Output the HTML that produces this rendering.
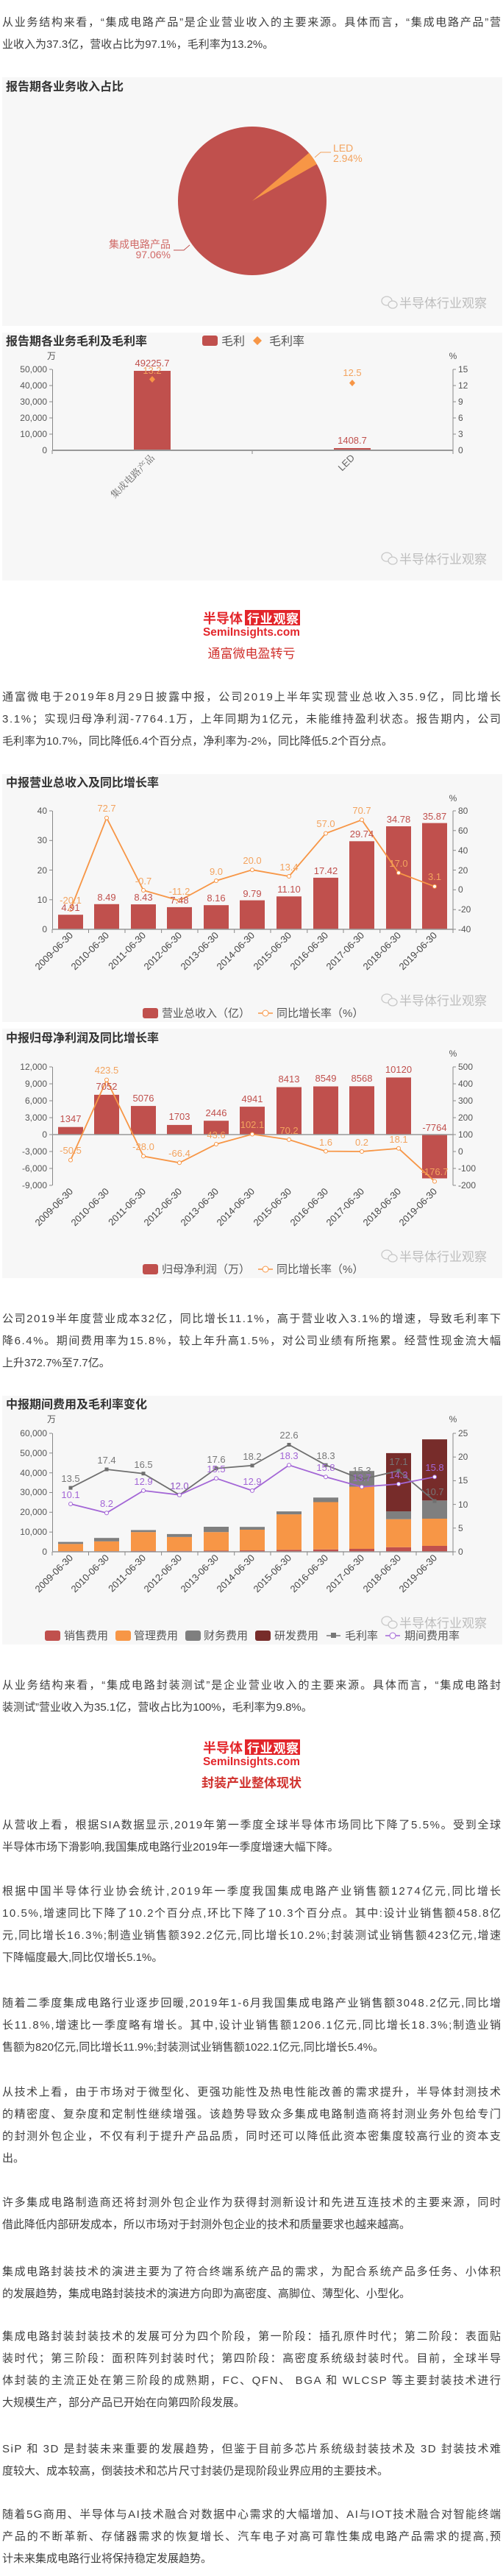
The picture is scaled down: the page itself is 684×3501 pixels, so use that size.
<!DOCTYPE html>
<html><head><meta charset="utf-8"><style>
html,body{margin:0;padding:0;background:#fff;}
svg{display:block;}
.p{font-family:"Liberation Sans","Noto Sans CJK SC",sans-serif;font-size:15px;fill:#3e3e3e;}
.t{font-family:"Liberation Sans","Noto Sans CJK SC",sans-serif;font-size:16px;font-weight:bold;fill:#333;}
.ax{font-family:"Liberation Sans","Noto Sans CJK SC",sans-serif;font-size:12px;fill:#555;}
.xl{font-family:"Liberation Sans","Noto Sans CJK SC",sans-serif;font-size:13px;fill:#444;}
.rl{font-family:"Liberation Sans",sans-serif;font-size:13px;fill:#c0504d;}
.ol{font-family:"Liberation Sans",sans-serif;font-size:13px;fill:#f3a35e;}
.gl{font-family:"Liberation Sans",sans-serif;font-size:13px;fill:#777;}
.pl{font-family:"Liberation Sans",sans-serif;font-size:13px;fill:#a366d6;}
.lg{font-family:"Liberation Sans","Noto Sans CJK SC",sans-serif;font-size:15px;fill:#555;}
.wm{font-family:"Liberation Sans","Noto Sans CJK SC",sans-serif;font-size:17px;fill:#bdbdbd;}
.hd{font-family:"Liberation Sans","Noto Sans CJK SC",sans-serif;font-size:17px;fill:#d0312d;}
</style></head><body>
<svg width="684" height="3501" viewBox="0 0 684 3501" xmlns="http://www.w3.org/2000/svg">
<defs>
<g id="wx"><ellipse cx="0" cy="0" rx="7" ry="6" fill="none" stroke="#c8c8c8" stroke-width="1.3"/><ellipse cx="8" cy="5" rx="6" ry="5" fill="#f7f7f7" stroke="#c8c8c8" stroke-width="1.3"/></g>
</defs>

<!-- paragraph 1 -->
<text class="p" x="3" y="35" textLength="678" lengthAdjust="spacing">从业务结构来看，“集成电路产品”是企业营业收入的主要来源。具体而言，“集成电路产品”营</text>
<text class="p" x="3" y="65">业收入为37.3亿，营收占比为97.1%，毛利率为13.2%。</text>

<!-- chart 1 pie -->
<rect x="3" y="105" width="680" height="338" fill="#f7f7f7"/>
<text class="t" x="8" y="123">报告期各业务收入占比</text>
<circle cx="343" cy="273" r="101" fill="#c0504d"/>
<path d="M343,273 L420.2,207.8 A101,101 0 0,1 430.8,223.1 Z" fill="#f79646"/>
<polyline points="428,214 436,207 450,207" fill="none" stroke="#f3a35e" stroke-width="1"/>
<text x="453" y="206" style="font-family:'Liberation Sans',sans-serif;font-size:14px;fill:#f3a35e">LED</text>
<text x="453" y="220" style="font-family:'Liberation Sans',sans-serif;font-size:14px;fill:#f3a35e">2.94%</text>
<polyline points="258,333 250,340 236,340" fill="none" stroke="#c0504d" stroke-width="1"/>
<text x="232" y="337" text-anchor="end" style="font-family:'Liberation Sans','Noto Sans CJK SC',sans-serif;font-size:14px;fill:#d06a67">集成电路产品</text>
<text x="232" y="351" text-anchor="end" style="font-family:'Liberation Sans',sans-serif;font-size:14px;fill:#d06a67">97.06%</text>
<use href="#wx" x="526" y="409"/>
<text class="wm" x="543" y="418">半导体行业观察</text>

<!-- chart 2 -->
<rect x="3" y="452" width="680" height="337" fill="#f7f7f7"/>
<text class="t" x="8" y="469">报告期各业务毛利及毛利率</text>
<rect x="275" y="456" width="21" height="14" rx="3" fill="#c0504d"/>
<text class="lg" x="301" y="469" style="font-size:16px">毛利</text>
<path d="M350,457 L356,463 L350,469 L344,463 Z" fill="#f79646"/>
<text class="lg" x="366" y="469" style="font-size:16px">毛利率</text>
<text class="ax" x="70" y="488" text-anchor="middle">万</text>
<text class="ax" x="616" y="488" text-anchor="middle">%</text>
<line x1="71.5" y1="502" x2="71.5" y2="612" stroke="#888"/>
<line x1="616" y1="502" x2="616" y2="612" stroke="#888"/>
<g stroke="#888">
<line x1="67" y1="502" x2="71" y2="502"/><line x1="67" y1="524" x2="71" y2="524"/><line x1="67" y1="546" x2="71" y2="546"/><line x1="67" y1="568" x2="71" y2="568"/><line x1="67" y1="590" x2="71" y2="590"/>
<line x1="616" y1="502" x2="620" y2="502"/><line x1="616" y1="524" x2="620" y2="524"/><line x1="616" y1="546" x2="620" y2="546"/><line x1="616" y1="568" x2="620" y2="568"/><line x1="616" y1="590" x2="620" y2="590"/>
<line x1="71" y1="612" x2="71" y2="617"/><line x1="343" y1="612" x2="343" y2="617"/><line x1="616" y1="612" x2="616" y2="617"/>
</g>
<g class="ax" text-anchor="end">
<text x="64" y="506">50,000</text><text x="64" y="528">40,000</text><text x="64" y="550">30,000</text><text x="64" y="572">20,000</text><text x="64" y="594">10,000</text><text x="64" y="616">0</text>
</g>
<g class="ax">
<text x="623" y="506">15</text><text x="623" y="528">12</text><text x="623" y="550">9</text><text x="623" y="572">6</text><text x="623" y="594">3</text><text x="623" y="616">0</text>
</g>
<rect x="182" y="504" width="50" height="108" fill="#c0504d"/>
<rect x="454" y="609" width="50" height="3" fill="#c0504d"/>
<line x1="71" y1="612" x2="616" y2="612" stroke="#999" stroke-width="2"/>
<text class="rl" x="207" y="498" text-anchor="middle">49225.7</text>
<text class="ol" x="207" y="508" text-anchor="middle">13.2</text>
<path d="M207,511 L211,515.5 L207,520 L203,515.5 Z" fill="#f79646"/>
<text class="ol" x="479" y="511" text-anchor="middle">12.5</text>
<path d="M479,516 L483,520.5 L479,525 L475,520.5 Z" fill="#f79646"/>
<text class="rl" x="479" y="603" text-anchor="middle">1408.7</text>
<text transform="translate(211,623) rotate(-45)" text-anchor="end" style="font-family:'Noto Serif CJK SC',serif;font-size:13px;fill:#666">集成电路产品</text>
<text transform="translate(483,623) rotate(-45)" text-anchor="end" style="font-family:'Liberation Sans',sans-serif;font-size:13px;fill:#666">LED</text>
<use href="#wx" x="526" y="757"/>
<text class="wm" x="543" y="766">半导体行业观察</text>

<!-- logo 1 -->
<text x="276" y="847" style="font-family:'Liberation Sans','Noto Sans CJK SC',sans-serif;font-size:18px;font-weight:bold;fill:#e3262b">半导体</text>
<rect x="333" y="829" width="75" height="21" fill="#e3262b"/>
<text x="336" y="847" textLength="70" style="font-family:'Liberation Sans','Noto Sans CJK SC',sans-serif;font-size:17px;font-weight:bold;fill:#fff">行业观察</text>
<text x="276" y="864" textLength="132" lengthAdjust="spacingAndGlyphs" style="font-family:'Liberation Sans',sans-serif;font-size:16px;font-weight:bold;fill:#e3262b">SemiInsights.com</text>
<text class="hd" x="342" y="894" text-anchor="middle">通富微电盈转亏</text>

<text class="p" x="3" y="952" textLength="678" lengthAdjust="spacing">通富微电于2019年8月29日披露中报，公司2019上半年实现营业总收入35.9亿，同比增长</text>
<text class="p" x="3" y="982" textLength="678" lengthAdjust="spacing">3.1%；实现归母净利润-7764.1万，上年同期为1亿元，未能维持盈利状态。报告期内，公司</text>
<text class="p" x="3" y="1012">毛利率为10.7%，同比降低6.4个百分点，净利率为-2%，同比降低5.2个百分点。</text>

<!-- chart 3 -->
<rect x="3" y="1052" width="680" height="337" fill="#f7f7f7"/>
<text class="t" x="8" y="1069">中报营业总收入及同比增长率</text>
<text class="ax" x="616" y="1089" text-anchor="middle">%</text>
<line x1="71.5" y1="1102" x2="71.5" y2="1263" stroke="#888"/>
<line x1="616" y1="1102" x2="616" y2="1263" stroke="#888"/>
<g stroke="#888">
<line x1="67" y1="1102" x2="71" y2="1102"/><line x1="67" y1="1142.3" x2="71" y2="1142.3"/><line x1="67" y1="1182.5" x2="71" y2="1182.5"/><line x1="67" y1="1222.8" x2="71" y2="1222.8"/>
<line x1="616" y1="1102" x2="620" y2="1102"/><line x1="616" y1="1128.8" x2="620" y2="1128.8"/><line x1="616" y1="1155.7" x2="620" y2="1155.7"/><line x1="616" y1="1182.5" x2="620" y2="1182.5"/><line x1="616" y1="1209.3" x2="620" y2="1209.3"/><line x1="616" y1="1236.2" x2="620" y2="1236.2"/><line x1="616" y1="1263" x2="620" y2="1263"/>
</g>
<g class="ax" text-anchor="end"><text x="64" y="1106">40</text><text x="64" y="1146">30</text><text x="64" y="1187">20</text><text x="64" y="1227">10</text><text x="64" y="1267">0</text></g>
<g class="ax"><text x="623" y="1106">80</text><text x="623" y="1133">60</text><text x="623" y="1160">40</text><text x="623" y="1187">20</text><text x="623" y="1213">0</text><text x="623" y="1240">-20</text><text x="623" y="1267">-40</text></g>
<g fill="#c0504d">
<rect x="79" y="1243.2" width="34" height="19.8"/><rect x="128" y="1228.8" width="34" height="34.2"/><rect x="178" y="1229.1" width="34" height="33.9"/><rect x="227" y="1232.9" width="34" height="30.1"/><rect x="277" y="1230.2" width="34" height="32.8"/><rect x="326" y="1223.6" width="34" height="39.4"/><rect x="376" y="1218.3" width="34" height="44.7"/><rect x="426" y="1192.9" width="34" height="70.1"/><rect x="475" y="1143.3" width="34" height="119.7"/><rect x="525" y="1123" width="34" height="140"/><rect x="574" y="1118.6" width="34" height="144.4"/>
</g>
<line x1="71" y1="1263" x2="616" y2="1263" stroke="#999" stroke-width="1.5"/>
<g stroke="#888"><line x1="71" y1="1263" x2="71" y2="1268"/><line x1="120.5" y1="1263" x2="120.5" y2="1268"/><line x1="170" y1="1263" x2="170" y2="1268"/><line x1="219.6" y1="1263" x2="219.6" y2="1268"/><line x1="269" y1="1263" x2="269" y2="1268"/><line x1="318.7" y1="1263" x2="318.7" y2="1268"/><line x1="368" y1="1263" x2="368" y2="1268"/><line x1="417.8" y1="1263" x2="417.8" y2="1268"/><line x1="467" y1="1263" x2="467" y2="1268"/><line x1="516.8" y1="1263" x2="516.8" y2="1268"/><line x1="566" y1="1263" x2="566" y2="1268"/><line x1="616" y1="1263" x2="616" y2="1268"/></g>
<polyline points="96,1236 145,1111.6 195,1210 244,1224 294,1197 343,1182.2 393,1191 443,1132.6 492,1114.3 542,1186.2 591,1204.8" fill="none" stroke="#f79646" stroke-width="1.8"/>
<g fill="#fff" stroke="#f79646" stroke-width="1"><circle cx="96" cy="1236" r="2.5"/><circle cx="145" cy="1111.6" r="2.5"/><circle cx="195" cy="1210" r="2.5"/><circle cx="244" cy="1224" r="2.5"/><circle cx="294" cy="1197" r="2.5"/><circle cx="343" cy="1182.2" r="2.5"/><circle cx="393" cy="1191" r="2.5"/><circle cx="443" cy="1132.6" r="2.5"/><circle cx="492" cy="1114.3" r="2.5"/><circle cx="542" cy="1186.2" r="2.5"/><circle cx="591" cy="1204.8" r="2.5"/></g>
<g class="rl" text-anchor="middle"><text x="96" y="1238">4.91</text><text x="145" y="1224">8.49</text><text x="195" y="1224">8.43</text><text x="244" y="1228">7.48</text><text x="294" y="1225">8.16</text><text x="343" y="1219">9.79</text><text x="393" y="1213">11.10</text><text x="443" y="1188">17.42</text><text x="492" y="1138">29.74</text><text x="542" y="1118">34.78</text><text x="591" y="1114">35.87</text></g>
<g class="ol" text-anchor="middle"><text x="96" y="1228">-20.1</text><text x="145" y="1103">72.7</text><text x="195" y="1202">-0.7</text><text x="244" y="1216">-11.2</text><text x="294" y="1189">9.0</text><text x="343" y="1174">20.0</text><text x="393" y="1183">13.4</text><text x="443" y="1124">57.0</text><text x="492" y="1106">70.7</text><text x="542" y="1178">17.0</text><text x="591" y="1196">3.1</text></g>
<g class="xl" text-anchor="end">
<text transform="translate(100,1272) rotate(-45)">2009-06-30</text><text transform="translate(149,1272) rotate(-45)">2010-06-30</text><text transform="translate(199,1272) rotate(-45)">2011-06-30</text><text transform="translate(248,1272) rotate(-45)">2012-06-30</text><text transform="translate(298,1272) rotate(-45)">2013-06-30</text><text transform="translate(347,1272) rotate(-45)">2014-06-30</text><text transform="translate(397,1272) rotate(-45)">2015-06-30</text><text transform="translate(447,1272) rotate(-45)">2016-06-30</text><text transform="translate(496,1272) rotate(-45)">2017-06-30</text><text transform="translate(546,1272) rotate(-45)">2018-06-30</text><text transform="translate(595,1272) rotate(-45)">2019-06-30</text>
</g>
<use href="#wx" x="526" y="1357"/>
<text class="wm" x="543" y="1366">半导体行业观察</text>
<rect x="194" y="1370" width="21" height="14" rx="3" fill="#c0504d"/>
<text class="lg" x="220" y="1382">营业总收入（亿）</text>
<line x1="351" y1="1377" x2="371" y2="1377" stroke="#f79646" stroke-width="1.5"/><circle cx="361" cy="1377" r="4" fill="#fff" stroke="#f79646"/>
<text class="lg" x="376" y="1382">同比增长率（%）</text>

<!-- chart 4 -->
<rect x="3" y="1398" width="680" height="339" fill="#f7f7f7"/>
<text class="t" x="8" y="1416">中报归母净利润及同比增长率</text>
<text class="ax" x="616" y="1436" text-anchor="middle">%</text>
<line x1="71.5" y1="1450" x2="71.5" y2="1611" stroke="#888"/>
<line x1="616" y1="1450" x2="616" y2="1611" stroke="#888"/>
<g stroke="#888">
<line x1="67" y1="1450" x2="71" y2="1450"/><line x1="67" y1="1473" x2="71" y2="1473"/><line x1="67" y1="1496" x2="71" y2="1496"/><line x1="67" y1="1519" x2="71" y2="1519"/><line x1="67" y1="1542" x2="71" y2="1542"/><line x1="67" y1="1565" x2="71" y2="1565"/><line x1="67" y1="1588" x2="71" y2="1588"/><line x1="67" y1="1611" x2="71" y2="1611"/>
<line x1="616" y1="1450" x2="620" y2="1450"/><line x1="616" y1="1473" x2="620" y2="1473"/><line x1="616" y1="1496" x2="620" y2="1496"/><line x1="616" y1="1519" x2="620" y2="1519"/><line x1="616" y1="1542" x2="620" y2="1542"/><line x1="616" y1="1565" x2="620" y2="1565"/><line x1="616" y1="1588" x2="620" y2="1588"/><line x1="616" y1="1611" x2="620" y2="1611"/>
</g>
<g class="ax" text-anchor="end"><text x="64" y="1454">12,000</text><text x="64" y="1477">9,000</text><text x="64" y="1500">6,000</text><text x="64" y="1523">3,000</text><text x="64" y="1546">0</text><text x="64" y="1569">-3,000</text><text x="64" y="1592">-6,000</text><text x="64" y="1615">-9,000</text></g>
<g class="ax"><text x="623" y="1454">500</text><text x="623" y="1477">400</text><text x="623" y="1500">300</text><text x="623" y="1523">200</text><text x="623" y="1546">100</text><text x="623" y="1569">0</text><text x="623" y="1592">-100</text><text x="623" y="1615">-200</text></g>
<g fill="#c0504d">
<rect x="79" y="1531.7" width="34" height="10.3"/><rect x="128" y="1487.9" width="34" height="54.1"/><rect x="178" y="1503.1" width="34" height="38.9"/><rect x="227" y="1528.9" width="34" height="13.1"/><rect x="277" y="1523.2" width="34" height="18.8"/><rect x="326" y="1504.1" width="34" height="37.9"/><rect x="376" y="1477.5" width="34" height="64.5"/><rect x="426" y="1476.5" width="34" height="65.5"/><rect x="475" y="1476.3" width="34" height="65.7"/><rect x="525" y="1464.4" width="34" height="77.6"/><rect x="574" y="1542" width="34" height="59.5"/>
</g>
<line x1="71" y1="1542" x2="616" y2="1542" stroke="#999" stroke-width="1.5"/>
<polyline points="96,1576.6 145,1467.6 195,1571.4 244,1580.3 294,1555 343,1541.5 393,1548.9 443,1564.6 492,1565 542,1560.8 591,1605.6" fill="none" stroke="#f79646" stroke-width="1.8"/>
<g fill="#fff" stroke="#f79646" stroke-width="1"><circle cx="96" cy="1576.6" r="2.5"/><circle cx="145" cy="1467.6" r="2.5"/><circle cx="195" cy="1571.4" r="2.5"/><circle cx="244" cy="1580.3" r="2.5"/><circle cx="294" cy="1555" r="2.5"/><circle cx="343" cy="1541.5" r="2.5"/><circle cx="393" cy="1548.9" r="2.5"/><circle cx="443" cy="1564.6" r="2.5"/><circle cx="492" cy="1565" r="2.5"/><circle cx="542" cy="1560.8" r="2.5"/><circle cx="591" cy="1605.6" r="2.5"/></g>
<g class="rl" text-anchor="middle"><text x="96" y="1525">1347</text><text x="145" y="1481">7052</text><text x="195" y="1497">5076</text><text x="244" y="1522">1703</text><text x="294" y="1517">2446</text><text x="343" y="1498">4941</text><text x="393" y="1471">8413</text><text x="443" y="1470">8549</text><text x="492" y="1470">8568</text><text x="542" y="1458">10120</text><text x="591" y="1537">-7764</text></g>
<g class="ol" text-anchor="middle"><text x="96" y="1568">-50.5</text><text x="145" y="1459">423.5</text><text x="195" y="1563">-28.0</text><text x="244" y="1572">-66.4</text><text x="294" y="1547">43.6</text><text x="343" y="1533">102.1</text><text x="393" y="1541">70.2</text><text x="443" y="1557">1.6</text><text x="492" y="1557">0.2</text><text x="542" y="1553">18.1</text><text x="591" y="1597">-176.7</text></g>
<g class="xl" text-anchor="end">
<text transform="translate(100,1620) rotate(-45)">2009-06-30</text><text transform="translate(149,1620) rotate(-45)">2010-06-30</text><text transform="translate(199,1620) rotate(-45)">2011-06-30</text><text transform="translate(248,1620) rotate(-45)">2012-06-30</text><text transform="translate(298,1620) rotate(-45)">2013-06-30</text><text transform="translate(347,1620) rotate(-45)">2014-06-30</text><text transform="translate(397,1620) rotate(-45)">2015-06-30</text><text transform="translate(447,1620) rotate(-45)">2016-06-30</text><text transform="translate(496,1620) rotate(-45)">2017-06-30</text><text transform="translate(546,1620) rotate(-45)">2018-06-30</text><text transform="translate(595,1620) rotate(-45)">2019-06-30</text>
</g>
<use href="#wx" x="526" y="1705"/>
<text class="wm" x="543" y="1714">半导体行业观察</text>
<rect x="194" y="1718" width="21" height="14" rx="3" fill="#c0504d"/>
<text class="lg" x="220" y="1730">归母净利润（万）</text>
<line x1="351" y1="1725" x2="371" y2="1725" stroke="#f79646" stroke-width="1.5"/><circle cx="361" cy="1725" r="4" fill="#fff" stroke="#f79646"/>
<text class="lg" x="376" y="1730">同比增长率（%）</text>

<text class="p" x="3" y="1797" textLength="678" lengthAdjust="spacing">公司2019半年度营业成本32亿，同比增长11.1%，高于营业收入3.1%的增速，导致毛利率下</text>
<text class="p" x="3" y="1827" textLength="678" lengthAdjust="spacing">降6.4%。期间费用率为15.8%，较上年升高1.5%，对公司业绩有所拖累。经营性现金流大幅</text>
<text class="p" x="3" y="1857">上升372.7%至7.7亿。</text>

<!-- chart 5 -->
<rect x="3" y="1897" width="680" height="338" fill="#f7f7f7"/>
<text class="t" x="8" y="1914">中报期间费用及毛利率变化</text>
<text class="ax" x="70" y="1933" text-anchor="middle">万</text>
<text class="ax" x="616" y="1933" text-anchor="middle">%</text>
<line x1="71.5" y1="1948" x2="71.5" y2="2109" stroke="#888"/>
<line x1="616" y1="1948" x2="616" y2="2109" stroke="#888"/>
<g stroke="#888">
<line x1="67" y1="1948" x2="71" y2="1948"/><line x1="67" y1="1974.8" x2="71" y2="1974.8"/><line x1="67" y1="2001.7" x2="71" y2="2001.7"/><line x1="67" y1="2028.5" x2="71" y2="2028.5"/><line x1="67" y1="2055.3" x2="71" y2="2055.3"/><line x1="67" y1="2082.2" x2="71" y2="2082.2"/>
<line x1="616" y1="1948" x2="620" y2="1948"/><line x1="616" y1="1980.2" x2="620" y2="1980.2"/><line x1="616" y1="2012.4" x2="620" y2="2012.4"/><line x1="616" y1="2044.6" x2="620" y2="2044.6"/><line x1="616" y1="2076.8" x2="620" y2="2076.8"/><line x1="616" y1="2109" x2="620" y2="2109"/>
</g>
<g class="ax" text-anchor="end"><text x="64" y="1952">60,000</text><text x="64" y="1979">50,000</text><text x="64" y="2006">40,000</text><text x="64" y="2032">30,000</text><text x="64" y="2059">20,000</text><text x="64" y="2086">10,000</text><text x="64" y="2113">0</text></g>
<g class="ax"><text x="623" y="1952">25</text><text x="623" y="1984">20</text><text x="623" y="2016">15</text><text x="623" y="2049">10</text><text x="623" y="2081">5</text><text x="623" y="2113">0</text></g>
<!-- stacked bars -->
<g fill="#c0504d">
<rect x="79" y="2108.2" width="34" height="0.8"/><rect x="128" y="2108.2" width="34" height="0.8"/><rect x="178" y="2107.7" width="34" height="1.3"/><rect x="227" y="2107.7" width="34" height="1.3"/><rect x="277" y="2107.4" width="34" height="1.6"/><rect x="326" y="2107.1" width="34" height="1.9"/><rect x="376" y="2106.3" width="34" height="2.7"/><rect x="426" y="2105.8" width="34" height="3.2"/><rect x="475" y="2105" width="34" height="4"/><rect x="525" y="2102.8" width="34" height="6.2"/><rect x="574" y="2101" width="34" height="8"/>
</g>
<g fill="#f79646">
<rect x="79" y="2098.3" width="34" height="9.9"/><rect x="128" y="2094.8" width="34" height="13.4"/><rect x="178" y="2082.2" width="34" height="25.5"/><rect x="227" y="2088.9" width="34" height="18.8"/><rect x="277" y="2082.2" width="34" height="25.2"/><rect x="326" y="2079" width="34" height="28.1"/><rect x="376" y="2058.1" width="34" height="48.2"/><rect x="426" y="2041.5" width="34" height="64.3"/><rect x="475" y="2020.6" width="34" height="84.4"/><rect x="525" y="2064.7" width="34" height="38.1"/><rect x="574" y="2064" width="34" height="37"/>
</g>
<g fill="#7f7f7f">
<rect x="79" y="2095.6" width="34" height="2.7"/><rect x="128" y="2090.2" width="34" height="4.6"/><rect x="178" y="2079.5" width="34" height="2.7"/><rect x="227" y="2084.9" width="34" height="4"/><rect x="277" y="2075" width="34" height="7.2"/><rect x="326" y="2075.2" width="34" height="3.8"/><rect x="376" y="2054.1" width="34" height="4"/><rect x="426" y="2035.3" width="34" height="6.2"/><rect x="475" y="1999.2" width="34" height="21.4"/><rect x="525" y="2054" width="34" height="10.7"/><rect x="574" y="2039.3" width="34" height="24.7"/>
</g>
<g fill="#772c2a">
<rect x="525" y="1974.9" width="34" height="79.1"/><rect x="574" y="1956.2" width="34" height="83.1"/>
</g>
<line x1="71" y1="2109" x2="616" y2="2109" stroke="#999" stroke-width="1.5"/>
<g stroke="#888"><line x1="71" y1="2109" x2="71" y2="2114"/><line x1="120.5" y1="2109" x2="120.5" y2="2114"/><line x1="170" y1="2109" x2="170" y2="2114"/><line x1="219.6" y1="2109" x2="219.6" y2="2114"/><line x1="269" y1="2109" x2="269" y2="2114"/><line x1="318.7" y1="2109" x2="318.7" y2="2114"/><line x1="368" y1="2109" x2="368" y2="2114"/><line x1="417.8" y1="2109" x2="417.8" y2="2114"/><line x1="467" y1="2109" x2="467" y2="2114"/><line x1="516.8" y1="2109" x2="516.8" y2="2114"/><line x1="566" y1="2109" x2="566" y2="2114"/><line x1="616" y1="2109" x2="616" y2="2114"/></g>
<polyline points="96,2022.1 145,1997 195,2002.7 244,2031.7 294,1995.7 343,1991.8 393,1963.5 443,1991.2 492,2010.5 542,1998.9 591,2040.1" fill="none" stroke="#6f6f6f" stroke-width="1.8"/>
<g fill="#6f6f6f"><rect x="93.5" y="2019.6" width="5" height="5"/><rect x="142.5" y="1994.5" width="5" height="5"/><rect x="192.5" y="2000.2" width="5" height="5"/><rect x="241.5" y="2029.2" width="5" height="5"/><rect x="291.5" y="1993.2" width="5" height="5"/><rect x="340.5" y="1989.3" width="5" height="5"/><rect x="390.5" y="1961" width="5" height="5"/><rect x="440.5" y="1988.7" width="5" height="5"/><rect x="489.5" y="2008" width="5" height="5"/><rect x="539.5" y="1996.4" width="5" height="5"/><rect x="588.5" y="2037.6" width="5" height="5"/></g>
<polyline points="96,2044 145,2056.2 195,2025.9 244,2031.7 294,2009.2 343,2025.9 393,1991.2 443,2007.2 492,2020.8 542,2016.9 591,2007.2" fill="none" stroke="#a366d6" stroke-width="1.8"/>
<g fill="#fff" stroke="#a366d6" stroke-width="1"><circle cx="96" cy="2044" r="2.5"/><circle cx="145" cy="2056.2" r="2.5"/><circle cx="195" cy="2025.9" r="2.5"/><circle cx="244" cy="2031.7" r="2.5"/><circle cx="294" cy="2009.2" r="2.5"/><circle cx="343" cy="2025.9" r="2.5"/><circle cx="393" cy="1991.2" r="2.5"/><circle cx="443" cy="2007.2" r="2.5"/><circle cx="492" cy="2020.8" r="2.5"/><circle cx="542" cy="2016.9" r="2.5"/><circle cx="591" cy="2007.2" r="2.5"/></g>
<g class="gl" text-anchor="middle"><text x="96" y="2113" dy="-99">13.5</text><text x="145" y="1989">17.4</text><text x="195" y="1995">16.5</text><text x="244" y="2024">12.0</text><text x="294" y="1988">17.6</text><text x="343" y="1984">18.2</text><text x="393" y="1955">22.6</text><text x="443" y="1983">18.3</text><text x="492" y="2003">15.3</text><text x="542" y="1991">17.1</text><text x="591" y="2032">10.7</text></g>
<g class="pl" text-anchor="middle"><text x="96" y="2036">10.1</text><text x="145" y="2048">8.2</text><text x="195" y="2018">12.9</text><text x="244" y="2024">12.0</text><text x="294" y="2001">15.5</text><text x="343" y="2018">12.9</text><text x="393" y="1983">18.3</text><text x="443" y="1999">15.8</text><text x="492" y="2013">13.7</text><text x="542" y="2009">14.3</text><text x="591" y="1999">15.8</text></g>
<g class="xl" text-anchor="end">
<text transform="translate(100,2118) rotate(-45)">2009-06-30</text><text transform="translate(149,2118) rotate(-45)">2010-06-30</text><text transform="translate(199,2118) rotate(-45)">2011-06-30</text><text transform="translate(248,2118) rotate(-45)">2012-06-30</text><text transform="translate(298,2118) rotate(-45)">2013-06-30</text><text transform="translate(347,2118) rotate(-45)">2014-06-30</text><text transform="translate(397,2118) rotate(-45)">2015-06-30</text><text transform="translate(447,2118) rotate(-45)">2016-06-30</text><text transform="translate(496,2118) rotate(-45)">2017-06-30</text><text transform="translate(546,2118) rotate(-45)">2018-06-30</text><text transform="translate(595,2118) rotate(-45)">2019-06-30</text>
</g>
<use href="#wx" x="526" y="2203"/>
<text class="wm" x="543" y="2212">半导体行业观察</text>
<rect x="61" y="2216" width="21" height="14" rx="3" fill="#c0504d"/><text class="lg" x="87" y="2228">销售费用</text>
<rect x="157" y="2216" width="21" height="14" rx="3" fill="#f79646"/><text class="lg" x="182" y="2228">管理费用</text>
<rect x="252" y="2216" width="21" height="14" rx="3" fill="#7f7f7f"/><text class="lg" x="277" y="2228">财务费用</text>
<rect x="347" y="2216" width="21" height="14" rx="3" fill="#772c2a"/><text class="lg" x="373" y="2228">研发费用</text>
<line x1="444" y1="2223" x2="463" y2="2223" stroke="#777" stroke-width="1.5"/><rect x="450" y="2219" width="7" height="7" fill="#777"/><text class="lg" x="469" y="2228">毛利率</text>
<line x1="524" y1="2223" x2="544" y2="2223" stroke="#a366d6" stroke-width="1.5"/><circle cx="534" cy="2223" r="4" fill="#fff" stroke="#a366d6"/><text class="lg" x="550" y="2228">期间费用率</text>

<text class="p" x="3" y="2295" textLength="678" lengthAdjust="spacing">从业务结构来看，“集成电路封装测试”是企业营业收入的主要来源。具体而言，“集成电路封</text>
<text class="p" x="3" y="2325">装测试”营业收入为35.1亿，营收占比为100%，毛利率为9.8%。</text>

<!-- logo 2 -->
<text x="276" y="2382" style="font-family:'Liberation Sans','Noto Sans CJK SC',sans-serif;font-size:18px;font-weight:bold;fill:#e3262b">半导体</text>
<rect x="333" y="2364" width="75" height="21" fill="#e3262b"/>
<text x="336" y="2382" textLength="70" style="font-family:'Liberation Sans','Noto Sans CJK SC',sans-serif;font-size:17px;font-weight:bold;fill:#fff">行业观察</text>
<text x="276" y="2399" textLength="132" lengthAdjust="spacingAndGlyphs" style="font-family:'Liberation Sans',sans-serif;font-size:16px;font-weight:bold;fill:#e3262b">SemiInsights.com</text>
<text class="hd" x="342" y="2429" text-anchor="middle" style="font-weight:bold">封装产业整体现状</text>

<text class="p" x="3" y="2485" textLength="678" lengthAdjust="spacing">从营收上看，根据SIA数据显示,2019年第一季度全球半导体市场同比下降了5.5%。受到全球</text>
<text class="p" x="3" y="2515">半导体市场下滑影响,我国集成电路行业2019年一季度增速大幅下降。</text>

<text class="p" x="3" y="2575" textLength="678" lengthAdjust="spacing">根据中国半导体行业协会统计,2019年一季度我国集成电路产业销售额1274亿元,同比增长</text>
<text class="p" x="3" y="2605" textLength="678" lengthAdjust="spacing">10.5%,增速同比下降了10.2个百分点,环比下降了10.3个百分点。其中:设计业销售额458.8亿</text>
<text class="p" x="3" y="2635" textLength="678" lengthAdjust="spacing">元,同比增长16.3%;制造业销售额392.2亿元,同比增长10.2%;封装测试业销售额423亿元,增速</text>
<text class="p" x="3" y="2665">下降幅度最大,同比仅增长5.1%。</text>

<text class="p" x="3" y="2727" textLength="678" lengthAdjust="spacing">随着二季度集成电路行业逐步回暖,2019年1-6月我国集成电路产业销售额3048.2亿元,同比增</text>
<text class="p" x="3" y="2757" textLength="678" lengthAdjust="spacing">长11.8%,增速比一季度略有增长。其中,设计业销售额1206.1亿元,同比增长18.3%;制造业销</text>
<text class="p" x="3" y="2787">售额为820亿元,同比增长11.9%;封装测试业销售额1022.1亿元,同比增长5.4%。</text>

<text class="p" x="3" y="2848" textLength="678" lengthAdjust="spacing">从技术上看，由于市场对于微型化、更强功能性及热电性能改善的需求提升，半导体封测技术</text>
<text class="p" x="3" y="2878" textLength="678" lengthAdjust="spacing">的精密度、复杂度和定制性继续增强。该趋势导致众多集成电路制造商将封测业务外包给专门</text>
<text class="p" x="3" y="2908" textLength="678" lengthAdjust="spacing">的封测外包企业，不仅有利于提升产品品质，同时还可以降低此资本密集度较高行业的资本支</text>
<text class="p" x="3" y="2938">出。</text>

<text class="p" x="3" y="2998" textLength="678" lengthAdjust="spacing">许多集成电路制造商还将封测外包企业作为获得封测新设计和先进互连技术的主要来源，同时</text>
<text class="p" x="3" y="3028">借此降低内部研发成本，所以市场对于封测外包企业的技术和质量要求也越来越高。</text>

<text class="p" x="3" y="3092" textLength="678" lengthAdjust="spacing">集成电路封装技术的演进主要为了符合终端系统产品的需求，为配合系统产品多任务、小体积</text>
<text class="p" x="3" y="3122">的发展趋势，集成电路封装技术的演进方向即为高密度、高脚位、薄型化、小型化。</text>

<text class="p" x="3" y="3180" textLength="678" lengthAdjust="spacing">集成电路封装封装技术的发展可分为四个阶段，第一阶段：插孔原件时代；第二阶段：表面贴</text>
<text class="p" x="3" y="3210" textLength="678" lengthAdjust="spacing">装时代；第三阶段：面积阵列封装时代；第四阶段：高密度系统级封装时代。目前，全球半导</text>
<text class="p" x="3" y="3240" textLength="678" lengthAdjust="spacing">体封装的主流正处在第三阶段的成熟期，FC、QFN、 BGA 和 WLCSP 等主要封装技术进行</text>
<text class="p" x="3" y="3270">大规模生产，部分产品已开始在向第四阶段发展。</text>

<text class="p" x="3" y="3333" textLength="678" lengthAdjust="spacing">SiP 和 3D 是封装未来重要的发展趋势，但鉴于目前多芯片系统级封装技术及 3D 封装技术难</text>
<text class="p" x="3" y="3363">度较大、成本较高，倒装技术和芯片尺寸封装仍是现阶段业界应用的主要技术。</text>

<text class="p" x="3" y="3422" textLength="678" lengthAdjust="spacing">随着5G商用、半导体与AI技术融合对数据中心需求的大幅增加、AI与IOT技术融合对智能终端</text>
<text class="p" x="3" y="3452" textLength="678" lengthAdjust="spacing">产品的不断革新、存储器需求的恢复增长、汽车电子对高可靠性集成电路产品需求的提高,预</text>
<text class="p" x="3" y="3482">计未来集成电路行业将保持稳定发展趋势。</text>
</svg>
</body></html>
